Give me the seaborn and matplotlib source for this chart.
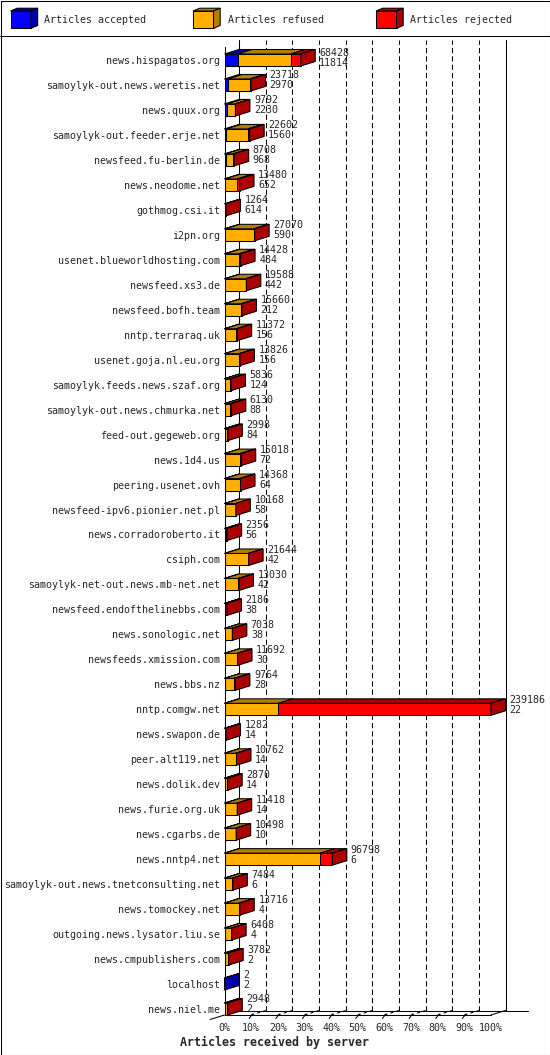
import numpy as np
import pandas as pd
import matplotlib
matplotlib.use("Agg")
import matplotlib.pyplot as plt
import matplotlib.transforms as mtransforms
from matplotlib.patches import Polygon
import seaborn as sns


################# Data #################

servers = [
    "news.hispagatos.org", "samoylyk-out.news.weretis.net", "news.quux.org",
    "samoylyk-out.feeder.erje.net", "newsfeed.fu-berlin.de", "news.neodome.net",
    "gothmog.csi.it", "i2pn.org", "usenet.blueworldhosting.com", "newsfeed.xs3.de",
    "newsfeed.bofh.team", "nntp.terraraq.uk", "usenet.goja.nl.eu.org",
    "samoylyk.feeds.news.szaf.org", "samoylyk-out.news.chmurka.net",
    "feed-out.gegeweb.org", "news.1d4.us", "peering.usenet.ovh",
    "newsfeed-ipv6.pionier.net.pl", "news.corradoroberto.it", "csiph.com",
    "samoylyk-net-out.news.mb-net.net", "newsfeed.endofthelinebbs.com",
    "news.sonologic.net", "newsfeeds.xmission.com", "news.bbs.nz", "nntp.comgw.net",
    "news.swapon.de", "peer.alt119.net", "news.dolik.dev", "news.furie.org.uk",
    "news.cgarbs.de", "news.nntp4.net", "samoylyk-out.news.tnetconsulting.net",
    "news.tomockey.net", "outgoing.news.lysator.liu.se", "news.cmpublishers.com",
    "localhost", "news.niel.me",
]

# numbers printed next to the bars
offered = [68428, 23718, 9792, 22602, 8708, 13480, 1264, 27070, 14428, 19588,
           15660, 11372, 13826, 5836, 6130, 2998, 15018, 14368, 10168, 2356,
           21644, 13030, 2186, 7038, 11692, 9764, 239186, 1282, 10762, 2870,
           11418, 10498, 96798, 7484, 13716, 6408, 3782, 2, 2948]
accepted = [11814, 2970, 2230, 1560, 968, 652, 614, 590, 484, 442,
            212, 156, 156, 124, 88, 84, 72, 64, 58, 56,
            42, 42, 38, 38, 30, 28, 22, 14, 14, 14,
            14, 10, 6, 6, 4, 4, 2, 2, 2]

refused = [47700, 19700, 7200, 19400, 6500, 10800, 0, 26000, 12600, 18700,
           15000, 10600, 12800, 4700, 4900, 2300, 13700, 13600, 9900, 1300,
           21400, 12400, 300, 6300, 11400, 8600, 48000, 0, 10000, 2400,
           10900, 10000, 86000, 7000, 12900, 6300, 3100, 0, 2500]
rejected = [8914, 1048, 362, 1642, 1240, 2028, 650, 480, 1344, 446,
            448, 616, 870, 1012, 1142, 614, 1246, 704, 210, 1000,
            202, 588, 1848, 700, 262, 1136, 191164, 1268, 748, 456,
            504, 488, 10792, 478, 812, 104, 680, 0, 446]

BLUE, BLUE_D = "#0000ff", "#0000aa"
ORANGE, ORANGE_D = "#ffb000", "#b47c00"
RED, RED_D = "#ff0000", "#aa0000"

df = pd.DataFrame({"server": servers, "accepted": accepted,
                   "refused": refused, "rejected": rejected, "offered": offered})
df["upto_refused"] = df["accepted"] + df["refused"]
df["upto_rejected"] = df["upto_refused"] + df["rejected"]


################# Layout (pixels) #################

W, H, DPI = 550, 1055, 100
L, R, T, B = 224.5, 491, 40, 1015     # main axes box
ROW0, ROWN = 60, 1009                 # centre of first / last bar
n = len(servers)
row_px = (ROWN - ROW0) / (n - 1)
xmax = max(offered)
px_x = xmax / (R - L)
px_y = 1 / row_px
DX, DY = 14.5 * px_x, 4.5 * px_y      # 3d depth
BAR_H = 12 * px_y
y_top = -(ROW0 - T) * px_y
y_bot = (n - 1) + (B - ROWN) * px_y

sns.set_theme(style="white")
plt.rcParams["font.family"] = ["DejaVu Sans Mono"]
plt.rcParams["font.size"] = 7.2
LW = 0.75

fig = plt.figure(figsize=(W / DPI, H / DPI), dpi=DPI)
bg = fig.add_axes([0, 0, 1, 1])
bg.set_xlim(0, W)
bg.set_ylim(H, 0)
bg.axis("off")

# frame + legend separator
bg.plot([0.5, W - 0.5, W - 0.5, 0.5, 0.5], [0.5, 0.5, H - 0.5, H - 0.5, 0.5], color="black", lw=LW)
bg.plot([0, W], [35.5, 35.5], color="black", lw=LW)

# legend with small 3d boxes
for x0, front, dark, label, tx in [(10.5, BLUE, BLUE_D, "Articles accepted", 44.5),
                                   (193, ORANGE, ORANGE_D, "Articles refused", 227.6),
                                   (376, RED, RED_D, "Articles rejected", 410.4)]:
    w, h, d, e = 20.5, 17.3, 6.7, 2.8
    y0 = 11
    bg.add_patch(Polygon([(x0, y0), (x0 + w, y0), (x0 + w, y0 + h), (x0, y0 + h)],
                         fc=front, ec="black", lw=LW))
    bg.add_patch(Polygon([(x0, y0), (x0 + w, y0), (x0 + w + d, y0 - e), (x0 + d, y0 - e)],
                         fc=dark, ec="black", lw=LW))
    bg.add_patch(Polygon([(x0 + w, y0), (x0 + w + d, y0 - e), (x0 + w + d, y0 + h - e), (x0 + w, y0 + h)],
                         fc=dark, ec="black", lw=LW))
    bg.text(tx, 20, label, va="center", ha="left", fontsize=7.2)

bg.text(180, 1042, "Articles received by server", va="center", ha="left",
        fontsize=8.4, fontweight="bold")


################# Bars #################

ax = fig.add_axes([L / W, 1 - B / H, (R - L) / W, (B - T) / H])
ax.patch.set_visible(False)

for col, color in [("upto_rejected", RED), ("upto_refused", ORANGE), ("accepted", BLUE)]:
    sns.barplot(data=df, x=col, y="server", orient="y", color=color, saturation=1,
                width=BAR_H, edgecolor="black", linewidth=LW, ax=ax, zorder=3)

for i, row in df.iterrows():
    yt, yb = i - BAR_H / 2, i + BAR_H / 2
    segs = [(0, row["accepted"], BLUE_D), (row["accepted"], row["upto_refused"], ORANGE_D),
            (row["upto_refused"], row["upto_rejected"], RED_D)]
    last = None
    for x0, x1, c in segs:
        if x1 > x0:
            ax.add_patch(Polygon([(x0, yt), (x1, yt), (x1 + DX, yt - DY), (x0 + DX, yt - DY)],
                                 fc=c, ec="black", lw=LW, zorder=3, clip_on=False))
            last = (x1, c)
    xe, c = last
    ax.add_patch(Polygon([(xe, yt), (xe + DX, yt - DY), (xe + DX, yb - DY), (xe, yb)],
                         fc=c, ec="black", lw=LW, zorder=3, clip_on=False))

    # offered / accepted numbers
    off = mtransforms.offset_copy(ax.transData, fig=fig, x=4, y=0, units="dots")
    ytxt = max(i - 9.5 * px_y, -7.3 * px_y)
    ax.text(xe + DX, ytxt, str(row["offered"]), transform=off, va="center", ha="left",
            fontsize=7.2, zorder=4, clip_on=False)
    ax.text(xe + DX, ytxt + 10 * px_y, str(row["accepted"]), transform=off, va="center",
            ha="left", fontsize=7.2, zorder=4, clip_on=False)


################# Walls, floor, ticks #################

ticks = np.linspace(0, xmax, 11)
yback = y_bot - DY
for k, t in enumerate(ticks):
    ls = "-" if k in (0, 10) else (0, (5, 3))
    ax.plot([t + DX, t + DX], [yback, y_top], color="black", lw=LW, ls=ls, zorder=1, clip_on=False)
    if 0 < k < 10:
        ax.plot([t, t + DX], [y_bot, yback], color="black", lw=LW, ls=(0, (3, 3)), zorder=1, clip_on=False)
        ax.plot([t - 2 * px_x, t + 1.5 * px_x], [y_bot + 3.5 * px_y, y_bot - 1 * px_y],
                color="black", lw=LW, zorder=2, clip_on=False)

# front left edge and floor
ax.plot([0, 0], [y_bot, -BAR_H / 2 - 7 * px_y], color="black", lw=LW, zorder=2, clip_on=False)
ax.plot([0, xmax], [y_bot, y_bot], color="black", lw=LW, zorder=2, clip_on=False)
ax.plot([xmax, xmax + DX], [y_bot, yback], color="black", lw=LW, zorder=2, clip_on=False)
ax.plot([DX, (528 - L) * px_x], [yback, yback], color="black", lw=LW, zorder=2, clip_on=False)
ax.plot([-DX, 0], [y_bot + DY, y_bot], color="black", lw=LW, zorder=2, clip_on=False)

ax.set_xlim(0, xmax)
ax.set_ylim(y_bot, y_top)
ax.set_xticks(ticks, labels=[f"{k * 10}%" for k in range(11)])
ax.set_yticks(range(n), labels=servers)
ax.tick_params(axis="x", length=0, pad=6, labelsize=7.2)
ax.tick_params(axis="y", length=0, pad=3.3, labelsize=7.2)
ax.set_xlabel("")
ax.set_ylabel("")
for s in ax.spines.values():
    s.set_visible(False)

fig.savefig("out.png", dpi=DPI)
